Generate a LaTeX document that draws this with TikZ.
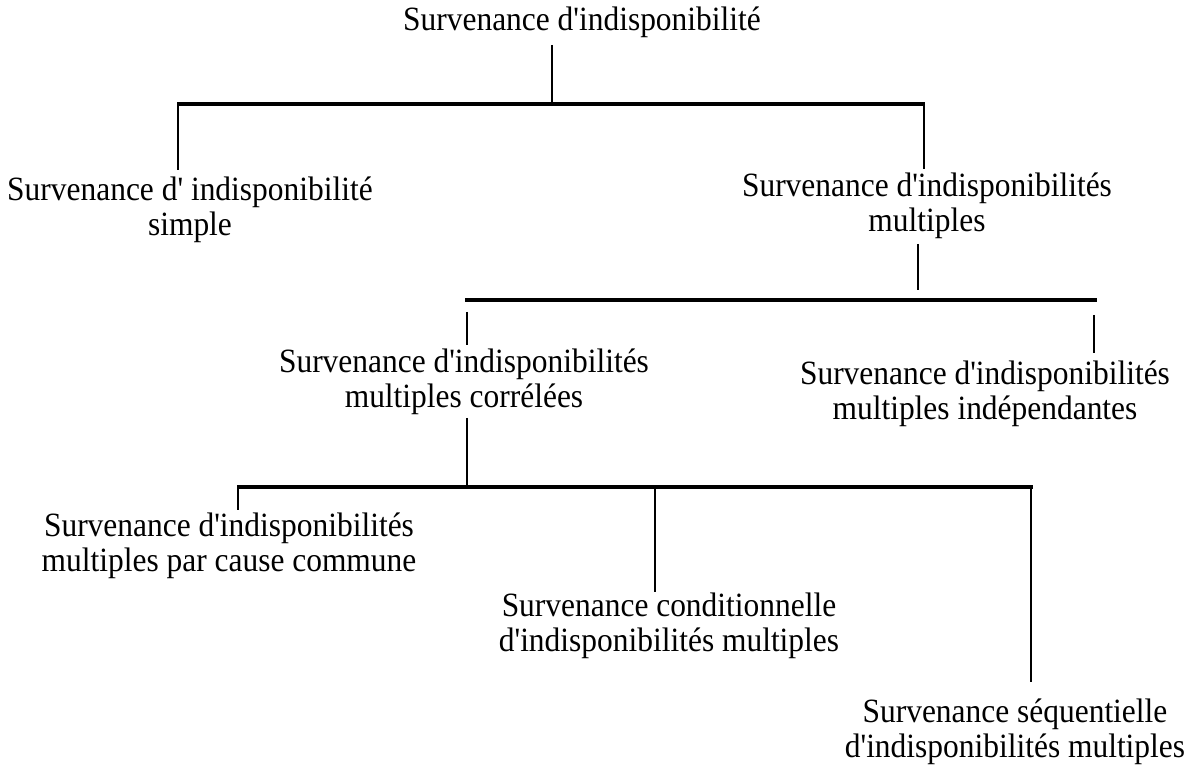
\documentclass[tikz,border=0pt]{standalone}
\usepackage{fontspec}
\newfontfamily\tfont{Liberation Serif}[FakeStretch=0.925]
\begin{document}
\begin{tikzpicture}[x=0.5pt,y=-0.5pt,
  lbl/.style={font=\tfont\fontsize{17}{17.5}\selectfont, align=center, inner sep=0pt},
  vl/.style={line width=1pt},
  hl/.style={line width=2pt}]
\useasboundingbox (0,0) rectangle (1191,770);
% labels
\node[lbl,anchor=base] (root) at (582,31) {Survenance d'indisponibilité};
\node[lbl] (simple) at (190,210) {Survenance d' indisponibilité\\simple};
\node[lbl] (mult) at (927,206) {Survenance d'indisponibilités\\multiples};
\node[lbl] (corr) at (464,382) {Survenance d'indisponibilités\\multiples corrélées};
\node[lbl] (indep) at (985,394) {Survenance d'indisponibilités\\multiples indépendantes};
\node[lbl] (ccf) at (229,546) {Survenance d'indisponibilités\\multiples par cause commune};
\node[lbl] (cond) at (669,626) {Survenance conditionnelle\\d'indisponibilités multiples};
\node[lbl] (seq) at (1015,732) {Survenance séquentielle\\d'indisponibilités multiples};
% junction coordinates
\coordinate (r0) at (552,45);
\coordinate (r1) at (552,104);
\coordinate (hL) at (177,104);
\coordinate (hR) at (925,104);
\coordinate (s1) at (178,104);
\coordinate (s0) at (178,170);
\coordinate (m1) at (924,104);
\coordinate (m0) at (924,169);
\coordinate (n0) at (918,244);
\coordinate (n1) at (918,290);
\coordinate (kL) at (465,300);
\coordinate (kR) at (1097,300);
\coordinate (c1) at (467,312);
\coordinate (c0) at (467,345);
\coordinate (i1) at (1094,315);
\coordinate (i0) at (1094,353);
\coordinate (d0) at (467,418);
\coordinate (d1) at (467,487);
\coordinate (bL) at (237,487);
\coordinate (bR) at (1033,487);
\coordinate (p1) at (238,487);
\coordinate (p0) at (238,510);
\coordinate (q1) at (655,487);
\coordinate (q0) at (655,592);
\coordinate (t1) at (1031,487);
\coordinate (t0) at (1031,682);
% connectors
\draw[vl] (r0) -- (r1);
\draw[hl] (hL) -- (hR);
\draw[vl] (s1) -- (s0);
\draw[vl] (m1) -- (m0);
\draw[vl] (n0) -- (n1);
\draw[hl] (kL) -- (kR);
\draw[vl] (c1) -- (c0);
\draw[vl] (i1) -- (i0);
\draw[vl] (d0) -- (d1);
\draw[hl] (bL) -- (bR);
\draw[vl] (p1) -- (p0);
\draw[vl] (q1) -- (q0);
\draw[vl] (t1) -- (t0);
\end{tikzpicture}
\end{document}
